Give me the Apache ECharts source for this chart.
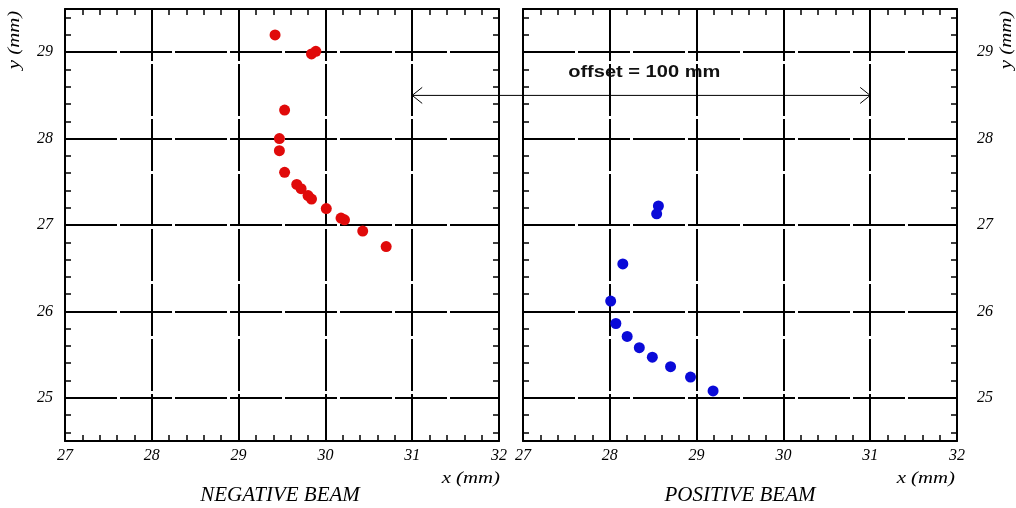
<!DOCTYPE html>
<html><head><meta charset="utf-8">
<script src="https://cdn.jsdelivr.net/npm/echarts@6/dist/echarts.min.js"></script>
<style>html,body{margin:0;padding:0;background:#fff}#c{width:1016px;height:508px}</style>
</head><body><div id="c"></div>
<script>
// ---- data ----
const xMin = 27, xMax = 32, xStep = 1;
const yMin = 24.5, yMax = 29.5;
const yTickLabels = [25, 26, 27, 28, 29];
const yMinorTicks = [24.6, 24.8, 25.0, 25.2, 25.4, 25.6, 25.8, 26.0, 26.2, 26.4, 26.6, 26.8,
                     27.0, 27.2, 27.4, 27.6, 27.8, 28.0, 28.2, 28.4, 28.6, 28.8, 29.0, 29.2, 29.4];
const negX = [29.42, 29.84, 29.89, 29.53, 29.47, 29.47, 29.53, 29.67, 29.72, 29.80, 29.84, 30.01, 30.18, 30.22, 30.43, 30.70];
const negY = [29.20, 28.98, 29.01, 28.33, 28.00, 27.86, 27.61, 27.47, 27.42, 27.34, 27.30, 27.19, 27.08, 27.06, 26.93, 26.75];
const posX = [28.56, 28.54, 28.15, 28.01, 28.07, 28.20, 28.34, 28.49, 28.70, 28.93, 29.19];
const posY = [27.22, 27.13, 26.55, 26.12, 25.86, 25.71, 25.58, 25.47, 25.36, 25.24, 25.08];
const panelTitles = ['NEGATIVE BEAM', 'POSITIVE BEAM'];
const xName = 'x (mm)', yName = 'y (mm)';
const offsetText = 'offset = 100 mm';
const arrowX = 31, arrowY = 28.5;
const offsetTextPos = [27.52, 28.77];

// ---- chart ----
const chart = echarts.init(document.getElementById('c'), null, {renderer: 'canvas'});
const serif = {fontFamily: 'Liberation Serif', fontStyle: 'italic', fontSize: 16, color: '#000'};
const black = '#000';
const gridLine = {show: true, lineStyle: {color: black, width: 2, type: [52, 3]}};

function xAx(gi, pos, labels) {
  return {
    type: 'value', gridIndex: gi, position: pos, min: xMin, max: xMax, interval: xStep,
    axisLine: {show: true, onZero: false, lineStyle: {color: black, width: 2}},
    axisTick: {show: true, inside: true, length: 6, lineStyle: {color: black, width: 1.5}},
    minorTick: {show: true, splitNumber: 5, length: 6, lineStyle: {color: black, width: 1.5}},
    axisLabel: labels ? Object.assign({margin: 7}, serif) : {show: false},
    splitLine: labels ? gridLine : {show: false}
  };
}
function yMain(gi, pos, margin) {
  return {
    type: 'value', gridIndex: gi, position: pos, min: yMin, max: yMax,
    axisLine: {show: false, onZero: false},
    axisTick: {show: false, customValues: yTickLabels},
    axisLabel: Object.assign({margin: margin, customValues: yTickLabels}, serif),
    splitLine: gridLine
  };
}
function yTicks(gi, pos) {
  return {
    type: 'value', gridIndex: gi, position: pos, min: yMin, max: yMax,
    axisLine: {show: true, onZero: false, lineStyle: {color: black, width: 2}},
    axisTick: {show: true, inside: true, length: 6, customValues: yMinorTicks, lineStyle: {color: black, width: 1.5}},
    axisLabel: {show: false},
    splitLine: {show: false}
  };
}

const zip = (a, b) => a.map((v, i) => [v, b[i]]);

chart.setOption({
  animation: false,
  backgroundColor: '#fff',
  grid: [
    {left: 65, top: 9, width: 434, height: 432},
    {left: 523, top: 9, width: 434, height: 432}
  ],
  xAxis: [xAx(0, 'bottom', true), xAx(0, 'top', false), xAx(1, 'bottom', true), xAx(1, 'top', false)],
  yAxis: [yMain(0, 'left', 12), yTicks(0, 'left'), yTicks(0, 'right'),
          yMain(1, 'right', 20), yTicks(1, 'left'), yTicks(1, 'right')],
  series: [
    {type: 'scatter', xAxisIndex: 0, yAxisIndex: 0, symbol: 'circle', symbolSize: 11,
     itemStyle: {color: '#e00a0a', opacity: 1}, data: zip(negX, negY), z: 5},
    {type: 'scatter', xAxisIndex: 2, yAxisIndex: 3, symbol: 'circle', symbolSize: 11,
     itemStyle: {color: '#0a0ad8', opacity: 1}, data: zip(posX, posY), z: 5}
  ]
});

const xa = chart.convertToPixel({xAxisIndex: 0}, arrowX);
const xb = chart.convertToPixel({xAxisIndex: 2}, arrowX);
const ya = chart.convertToPixel({yAxisIndex: 0}, arrowY);
const tx = chart.convertToPixel({xAxisIndex: 2}, offsetTextPos[0]);
const ty = chart.convertToPixel({yAxisIndex: 3}, offsetTextPos[1]);

const nameStyle = {fontFamily: 'Liberation Serif', fontStyle: 'italic', fontSize: 16, fill: '#000'};
chart.setOption({
  graphic: [
    {type: 'line', z: 100, shape: {x1: xa, y1: ya, x2: xb, y2: ya}, style: {stroke: black, lineWidth: 1}},
    {type: 'polyline', z: 100, shape: {points: [[xa + 10, ya - 8], [xa, ya], [xa + 10, ya + 8]]}, style: {stroke: black, fill: null, lineWidth: 1}},
    {type: 'polyline', z: 100, shape: {points: [[xb - 10, ya - 8], [xb, ya], [xb - 10, ya + 8]]}, style: {stroke: black, fill: null, lineWidth: 1}},
    {type: 'text', z: 100, x: tx, y: ty, scaleX: 1.18,
     style: {text: offsetText, fontFamily: 'Liberation Sans', fontWeight: 'bold', fontSize: 17, fill: '#111', textAlign: 'left', textVerticalAlign: 'middle'}},
    {type: 'text', x: 15, y: 40, rotation: Math.PI / 2, scaleX: 1.3,
     style: Object.assign({text: yName, textAlign: 'center', textVerticalAlign: 'middle'}, nameStyle)},
    {type: 'text', x: 1007, y: 40, rotation: Math.PI / 2, scaleX: 1.3,
     style: Object.assign({text: yName, textAlign: 'center', textVerticalAlign: 'middle'}, nameStyle)},
    {type: 'text', x: 500, y: 479, scaleX: 1.3,
     style: Object.assign({text: xName, textAlign: 'right', textVerticalAlign: 'middle'}, nameStyle)},
    {type: 'text', x: 955, y: 479, scaleX: 1.3,
     style: Object.assign({text: xName, textAlign: 'right', textVerticalAlign: 'middle'}, nameStyle)},
    {type: 'text', x: 280, y: 495,
     style: {text: panelTitles[0], fontFamily: 'Liberation Serif', fontStyle: 'italic', fontSize: 21, fill: '#000', textAlign: 'center', textVerticalAlign: 'middle'}},
    {type: 'text', x: 740, y: 495,
     style: {text: panelTitles[1], fontFamily: 'Liberation Serif', fontStyle: 'italic', fontSize: 21, fill: '#000', textAlign: 'center', textVerticalAlign: 'middle'}}
  ]
});
</script></body></html>
